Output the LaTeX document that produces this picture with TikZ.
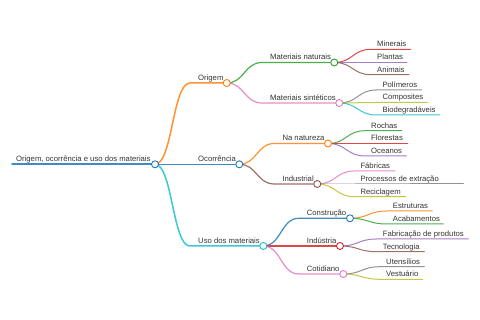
\documentclass[tikz,border=0pt]{standalone}
\usepackage{fontspec}
\setmainfont{Liberation Sans}
\usetikzlibrary{calc}
\definecolor{cBlue}{HTML}{1F77B4}
\definecolor{cOrange}{HTML}{FF7F0E}
\definecolor{cGreen}{HTML}{2CA02C}
\definecolor{cRed}{HTML}{D62728}
\definecolor{cPurple}{HTML}{9467BD}
\definecolor{cBrown}{HTML}{8C564B}
\definecolor{cPink}{HTML}{E377C2}
\definecolor{cGray}{HTML}{7F7F7F}
\definecolor{cOlive}{HTML}{BCBD22}
\definecolor{cCyan}{HTML}{17BECF}
\definecolor{txt}{HTML}{333333}
\tikzset{
  lbl/.style={anchor=base west, inner sep=0pt, font=\fontsize{7.7}{9}\selectfont, text=txt},
  dot/.style={circle, draw, fill=white, minimum size=7pt, inner sep=0pt, line width=0.9pt},
  link/.style={line cap=round, opacity=0.85}
}
% #1 name, #2 parent, #3 text x, #4 y, #5 end x, #6 colour, #7 line width, #8 start offset, #9 text
\newcommand\mmnode[9]{%
  \coordinate (#1-s) at (#3-#8,#4);
  \coordinate (#1-e) at (#5,#4);
  \node[lbl] (#1) at (#3,#4-2.6) {#9};
  \coordinate (#1-m) at ($(#2-e)!0.5!(#1-s)$);
  \draw[link, #6, line width=#7] (#2-e) .. controls (#1-m |- #2-e) and (#1-m |- #1-s) .. (#1-s) -- (#1-e);
}
\begin{document}
\begin{tikzpicture}[x=1pt,y=-1pt]
\useasboundingbox (0,0) rectangle (480,320);
% root
\coordinate (root-s) at (12,164.3);
\coordinate (root-e) at (155,164.3);
\node[lbl] (root) at (16,161.7) {Origem, ocorrência e uso dos materiais};
\draw[link, cBlue, line width=1.8pt] (root-s) -- (root-e);
% level 1
\mmnode{orig}{root}{198}{83}{226.7}{cOrange}{1.5pt}{8}{Origem}
\mmnode{ocor}{root}{198}{164.3}{239.3}{cBlue}{1.5pt}{8}{Ocorrência}
\mmnode{uso}{root}{198}{246}{263.3}{cCyan}{1.5pt}{8}{Uso dos materiais}
% level 2
\mmnode{matn}{orig}{270}{62.5}{334.3}{cGreen}{1.2pt}{8}{Materiais naturais}
\mmnode{mats}{orig}{270}{103}{339.3}{cPink}{1.2pt}{8}{Materiais sintéticos}
\mmnode{natu}{ocor}{282.3}{143.5}{328}{cOrange}{1.2pt}{8}{Na natureza}
\mmnode{indl}{ocor}{282.3}{184}{317.3}{cBrown}{1.2pt}{8}{Industrial}
\mmnode{cons}{uso}{306.7}{218.3}{350}{cBlue}{1.2pt}{8}{Construção}
\mmnode{inda}{uso}{306.7}{246}{340}{cRed}{1.2pt}{8}{Indústria}
\mmnode{coti}{uso}{306.7}{274}{343.3}{cPink}{1.2pt}{8}{Cotidiano}
% leaves
\mmnode{min}{matn}{377}{49.3}{410.7}{cRed}{1pt}{6}{Minerais}
\mmnode{pla}{matn}{377}{62.5}{407}{cPurple}{1pt}{6}{Plantas}
\mmnode{ani}{matn}{377}{74.7}{409}{cBrown}{1pt}{6}{Animais}
\mmnode{pol}{mats}{382.3}{90}{421.7}{cGray}{1pt}{6}{Polímeros}
\mmnode{com}{mats}{382.3}{102.5}{427.7}{cOlive}{1pt}{6}{Composites}
\mmnode{bio}{mats}{382.3}{115}{440}{cCyan}{1pt}{6}{Biodegradáveis}
\mmnode{roc}{natu}{371}{130.7}{401.7}{cGreen}{1pt}{6}{Rochas}
\mmnode{flo}{natu}{371}{143.5}{407.7}{cRed}{1pt}{6}{Florestas}
\mmnode{oce}{natu}{371}{156}{406.7}{cPurple}{1pt}{6}{Oceanos}
\mmnode{fab}{indl}{360.3}{171}{395}{cPink}{1pt}{6}{Fábricas}
\mmnode{pro}{indl}{360.3}{184}{463.3}{cGray}{1pt}{6}{Processos de extração}
\mmnode{rec}{indl}{360.3}{196.7}{405.7}{cOlive}{1pt}{6}{Reciclagem}
\mmnode{est}{cons}{392.7}{211}{432.3}{cOrange}{1pt}{6}{Estruturas}
\mmnode{aca}{cons}{392.7}{224}{443.3}{cGreen}{1pt}{6}{Acabamentos}
\mmnode{fbp}{inda}{382.7}{239}{468.3}{cPurple}{1pt}{6}{Fabricação de produtos}
\mmnode{tec}{inda}{382.7}{251.7}{424.3}{cBrown}{1pt}{6}{Tecnologia}
\mmnode{ute}{coti}{386}{266.7}{424.3}{cGray}{1pt}{6}{Utensílios}
\mmnode{ves}{coti}{386}{279.3}{422.7}{cOlive}{1pt}{6}{Vestuário}
% circles
\foreach \n/\c in {root/cBlue, orig/cOrange, ocor/cBlue, uso/cCyan, matn/cGreen, mats/cPink, natu/cOrange, indl/cBrown, cons/cBlue, inda/cRed, coti/cPink}
  \node[dot, draw=\c] (\n-c) at (\n-e) {};
\end{tikzpicture}
\end{document}
